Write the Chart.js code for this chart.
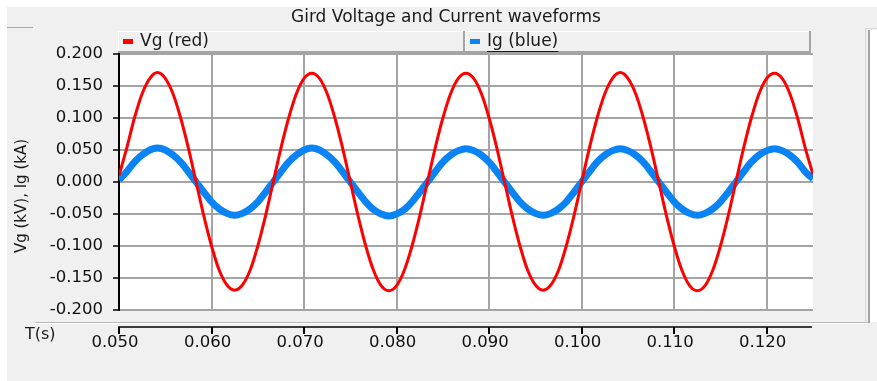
<!DOCTYPE html>
<html>
<head>
<meta charset="utf-8">
<script src="https://cdn.jsdelivr.net/npm/chart.js@4.4.1/dist/chart.umd.min.js"></script>
<style>
  html, body { margin: 0; padding: 0; background: #f0f0f0; }
  #chart { display: block; }
</style>
</head>
<body>
<canvas id="chart" width="877" height="381"></canvas>
<script>
// sampled waveforms, one sample every 1/1200 s starting at t = 0.050 s
const tStart = 0.05;
const sampleStep = 1 / 1200;

const titleText = 'Gird Voltage and Current waveforms';
const yTitle = 'Vg (kV), Ig (kA)';
const xTitle = 'T(s)';
const seriesNames = ['Vg (red)', 'Ig (blue)'];

// grid voltage (kV)
const vg = [
   0.010,  0.053,  0.100,  0.138,  0.162,  0.171,  0.162,  0.138,  0.100,  0.053,
   0.000, -0.053, -0.100, -0.138, -0.161, -0.169, -0.161, -0.138, -0.100, -0.053,
   0.000,  0.053,  0.100,  0.138,  0.162,  0.170,  0.162,  0.138,  0.100,  0.053,
   0.000, -0.053, -0.100, -0.138, -0.162, -0.170, -0.162, -0.138, -0.100, -0.053,
   0.000,  0.053,  0.100,  0.138,  0.162,  0.170,  0.162,  0.138,  0.100,  0.053,
   0.000, -0.053, -0.100, -0.138, -0.161, -0.169, -0.161, -0.138, -0.100, -0.053,
   0.000,  0.053,  0.100,  0.138,  0.162,  0.171,  0.162,  0.138,  0.100,  0.053,
   0.000, -0.053, -0.100, -0.138, -0.162, -0.170, -0.162, -0.138, -0.100, -0.053,
   0.000,  0.053,  0.100,  0.138,  0.162,  0.170,  0.162,  0.138,  0.100,  0.053,
   0.012
];

// grid current (kA)
const ig = [
   0.003,  0.016,  0.031,  0.042,  0.050,  0.053,  0.050,  0.042,  0.031,  0.016,
   0.000, -0.016, -0.031, -0.042, -0.049, -0.052, -0.049, -0.042, -0.031, -0.016,
   0.000,  0.016,  0.031,  0.042,  0.050,  0.053,  0.050,  0.042,  0.031,  0.016,
   0.000, -0.016, -0.031, -0.043, -0.050, -0.053, -0.050, -0.043, -0.031, -0.016,
   0.000,  0.016,  0.031,  0.042,  0.049,  0.052,  0.049,  0.042,  0.031,  0.016,
   0.000, -0.016, -0.031, -0.042, -0.049, -0.052, -0.049, -0.042, -0.031, -0.016,
   0.000,  0.016,  0.031,  0.042,  0.049,  0.052,  0.049,  0.042,  0.031,  0.016,
   0.000, -0.016, -0.031, -0.042, -0.049, -0.052, -0.049, -0.042, -0.031, -0.016,
   0.000,  0.016,  0.031,  0.042,  0.049,  0.052,  0.049,  0.042,  0.031,  0.016,
   0.005
];

const seriesColors = ['#ff0000', 'rgb(10,132,245)'];

const toPoints = arr => arr.map((v, i) => ({ x: tStart + i * sampleStep, y: v }));

const FONT = '"DejaVu Sans", Verdana, sans-serif';
const GRID = '#a4a4a4';

// panel chrome: background, title, legend cells, axis titles, separate time axis
const framePlugin = {
    id: 'frame',
    beforeDraw(chart) {
        const { ctx, chartArea: a, width, height } = chart;
        ctx.save();
        ctx.fillStyle = '#f0f0f0';
        ctx.fillRect(0, 0, width, height);
        ctx.fillStyle = '#ffffff';
        ctx.fillRect(0, 0, width, 7);
        ctx.fillRect(0, 0, 7, height);
        ctx.fillRect(a.left, a.top, a.right - a.left, a.bottom - a.top);

        // little frame line at top left
        ctx.strokeStyle = '#a8a8a8';
        ctx.lineWidth = 1;
        ctx.beginPath();
        ctx.moveTo(7, 27.5); ctx.lineTo(33, 27.5);
        ctx.stroke();

        // title
        ctx.fillStyle = '#1a1a1a';
        ctx.font = '17px ' + FONT;
        ctx.textAlign = 'center';
        ctx.textBaseline = 'middle';
        ctx.fillText(titleText, 446, 18);

        // legend cells
        const cells = [[118, 465], [465, 811]];
        const top = 31, bottom = 53;
        chart.data.datasets.forEach((ds, i) => {
            const [x0, x1] = cells[i];
            ctx.fillStyle = '#f0f0f0';
            ctx.fillRect(x0, top, x1 - x0, bottom - top);
            ctx.lineWidth = 1;
            ctx.strokeStyle = '#ffffff';
            ctx.beginPath();
            ctx.moveTo(x0 + 0.5, bottom); ctx.lineTo(x0 + 0.5, top + 0.5); ctx.lineTo(x1, top + 0.5);
            ctx.stroke();
            ctx.lineWidth = 2;
            ctx.strokeStyle = GRID;
            ctx.beginPath();
            ctx.moveTo(x0, bottom - 1); ctx.lineTo(x1 - 1, bottom - 1); ctx.lineTo(x1 - 1, top);
            ctx.stroke();

            ctx.fillStyle = ds.borderColor;
            ctx.fillRect(x0 + 5, 39, 10, 5);
            ctx.fillStyle = '#1a1a1a';
            ctx.font = '17px ' + FONT;
            ctx.textAlign = 'left';
            ctx.textBaseline = 'middle';
            ctx.fillText(ds.label, x0 + 22, 42);
            if (i === 1) {
                const w = ctx.measureText(ds.label).width;
                ctx.fillRect(x0 + 22, 51, w, 1);
            }
        });

        // y-axis title
        ctx.save();
        ctx.translate(22, 196);
        ctx.rotate(-Math.PI / 2);
        ctx.fillStyle = '#1a1a1a';
        ctx.font = '15px ' + FONT;
        ctx.textAlign = 'center';
        ctx.textBaseline = 'middle';
        ctx.fillText(yTitle, 0, 0);
        ctx.restore();

        // time axis title
        ctx.fillStyle = '#1a1a1a';
        ctx.font = '16px ' + FONT;
        ctx.textAlign = 'left';
        ctx.textBaseline = 'middle';
        ctx.fillText(xTitle, 25, 335);

        // separator between the plot panel and the time axis
        ctx.lineWidth = 1;
        ctx.strokeStyle = '#b8b8b8';
        ctx.beginPath();
        ctx.moveTo(35, 322.5); ctx.lineTo(868, 322.5);
        ctx.stroke();
        ctx.strokeStyle = '#ffffff';
        ctx.beginPath();
        ctx.moveTo(35, 323.5); ctx.lineTo(868, 323.5);
        ctx.stroke();

        // side panel on the right
        ctx.fillStyle = '#ffffff';
        ctx.fillRect(870, 30, 7, 292);
        ctx.strokeStyle = '#d8d8d8';
        ctx.beginPath();
        ctx.moveTo(865.5, 323); ctx.lineTo(865.5, 28.5); ctx.lineTo(877, 28.5);
        ctx.stroke();
        ctx.strokeStyle = GRID;
        ctx.lineWidth = 2;
        ctx.beginPath();
        ctx.moveTo(869, 323); ctx.lineTo(869, 30);
        ctx.stroke();
        ctx.restore();
    },
    afterDraw(chart) {
        const { ctx } = chart;
        const xs = chart.scales.x;
        ctx.save();
        ctx.strokeStyle = '#000000';
        ctx.lineWidth = 1.5;
        ctx.beginPath();
        ctx.moveTo(118, 327); ctx.lineTo(812, 327);
        ctx.stroke();
        ctx.lineWidth = 2;
        xs.ticks.forEach(t => {
            const px = Math.round(xs.getPixelForValue(t.value));
            ctx.beginPath();
            ctx.moveTo(px, 327); ctx.lineTo(px, 334);
            ctx.stroke();
        });
        ctx.restore();
    }
};

const ctx = document.getElementById('chart').getContext('2d');

const chart = new Chart(ctx, {
    type: 'line',
    data: {
        datasets: [
            {
                label: seriesNames[0],
                data: toPoints(vg),
                borderColor: seriesColors[0],
                borderWidth: 3,
                pointRadius: 0,
                fill: false,
                cubicInterpolationMode: 'monotone',
            },
            {
                label: seriesNames[1],
                data: toPoints(ig),
                borderColor: seriesColors[1],
                borderWidth: 7,
                pointRadius: 0,
                fill: false,
                cubicInterpolationMode: 'monotone',
            }
        ]
    },
    options: {
        responsive: false,
        animation: false,
        layout: { padding: { left: 0, top: 54, right: 64, bottom: 0 } },
        plugins: {
            legend: { display: false },
            title: { display: false },
            tooltip: { enabled: false },
        },
        scales: {
            x: {
                type: 'linear',
                min: 0.05,
                max: 0.125,
                afterFit: s => { s.height = 71; },
                grid: { color: GRID, lineWidth: 2, drawTicks: false },
                border: { display: false },
                ticks: {
                    stepSize: 0.01,
                    includeBounds: false,
                    padding: 23,
                    labelOffset: -4,
                    color: '#111',
                    font: { family: FONT, size: 16.5 },
                    callback: v => v.toFixed(3),
                    maxRotation: 0,
                },
            },
            y: {
                min: -0.2,
                max: 0.2,
                afterFit: s => { s.width = 119; },
                grid: { color: GRID, lineWidth: 2, tickColor: '#000', tickLength: 6, tickWidth: 1.5 },
                border: { color: '#000', width: 2 },
                ticks: {
                    stepSize: 0.05,
                    padding: 10,
                    color: '#111',
                    font: { family: FONT, size: 16.5 },
                    callback: v => v.toFixed(3),
                },
            },
        },
    },
    plugins: [framePlugin],
});
</script>
</body>
</html>
